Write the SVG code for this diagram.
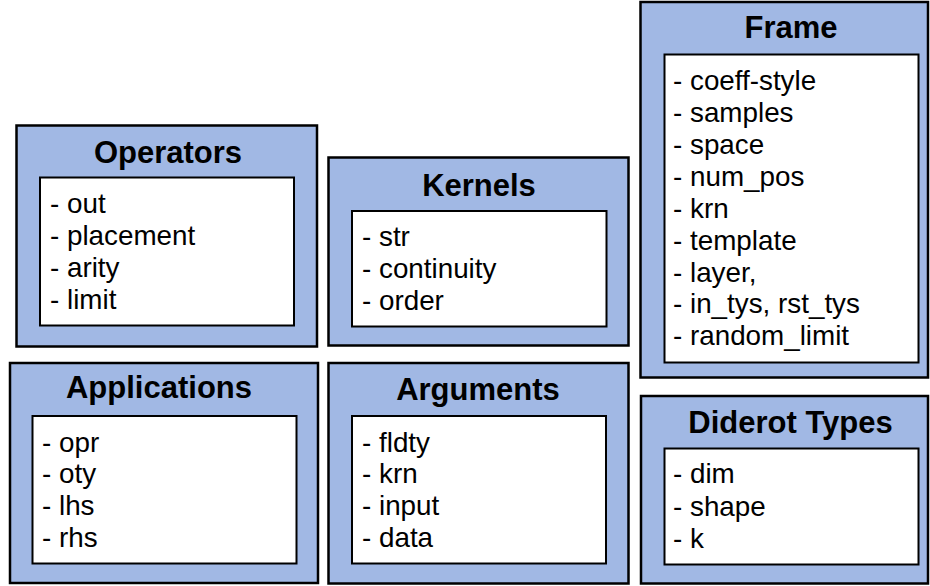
<svg xmlns="http://www.w3.org/2000/svg" width="930" height="586" viewBox="0 0 930 586">
<style>
.outer{fill:#A1B8E4;stroke:#000;stroke-width:2.5}
.inner{fill:#fff;stroke:#000;stroke-width:2}
.title{font-family:"Liberation Sans",Arial,sans-serif;font-weight:bold;font-size:31px;fill:#000;text-anchor:middle}
.item{font-family:"Liberation Sans",Arial,sans-serif;font-size:27.8px;fill:#000}
</style>
<rect width="930" height="586" fill="#fff"/>
<g id="operators">
<rect class="outer" x="16.5" y="125.5" width="300.5" height="221"/>
<rect class="inner" x="40" y="177.5" width="254" height="148"/>
<text class="title" x="168" y="163">Operators</text>
<text class="item" x="50" y="213">- out</text>
<text class="item" x="50" y="245">- placement</text>
<text class="item" x="50" y="277">- arity</text>
<text class="item" x="50" y="309">- limit</text>
</g>
<g id="kernels">
<rect class="outer" x="328.5" y="157.5" width="300" height="188"/>
<rect class="inner" x="352" y="211" width="254.5" height="115.5"/>
<text class="title" x="479" y="196">Kernels</text>
<text class="item" x="362" y="246">- str</text>
<text class="item" x="362" y="278">- continuity</text>
<text class="item" x="362" y="310">- order</text>
</g>
<g id="frame">
<rect class="outer" x="640.5" y="2" width="287.5" height="375.5"/>
<rect class="inner" x="664.5" y="54.5" width="254" height="308"/>
<text class="title" x="791" y="38">Frame</text>
<text class="item" x="673" y="90">- coeff-style</text>
<text class="item" x="673" y="122">- samples</text>
<text class="item" x="673" y="154">- space</text>
<text class="item" x="673" y="186">- num_pos</text>
<text class="item" x="673" y="218">- krn</text>
<text class="item" x="673" y="250">- template</text>
<text class="item" x="673" y="282">- layer,</text>
<text class="item" x="673" y="313">- in_tys, rst_tys</text>
<text class="item" x="673" y="345">- random_limit</text>
</g>
<g id="applications">
<rect class="outer" x="10" y="363" width="308" height="220"/>
<rect class="inner" x="32.5" y="416" width="264" height="147.5"/>
<text class="title" x="159" y="398">Applications</text>
<text class="item" x="42" y="452">- opr</text>
<text class="item" x="42" y="483">- oty</text>
<text class="item" x="42" y="515">- lhs</text>
<text class="item" x="42" y="547">- rhs</text>
</g>
<g id="arguments">
<rect class="outer" x="328.5" y="363" width="300" height="220.5"/>
<rect class="inner" x="352" y="416" width="254" height="147.5"/>
<text class="title" x="478" y="400">Arguments</text>
<text class="item" x="362" y="452">- fldty</text>
<text class="item" x="362" y="483">- krn</text>
<text class="item" x="362" y="515">- input</text>
<text class="item" x="362" y="547">- data</text>
</g>
<g id="diderot-types">
<rect class="outer" x="641" y="396" width="287" height="187.5"/>
<rect class="inner" x="664.5" y="448.5" width="254" height="116"/>
<text class="title" x="790.5" y="433">Diderot Types</text>
<text class="item" x="673" y="483">- dim</text>
<text class="item" x="673" y="516">- shape</text>
<text class="item" x="673" y="548">- k</text>
</g>
<g id="connectors"></g>
</svg>
